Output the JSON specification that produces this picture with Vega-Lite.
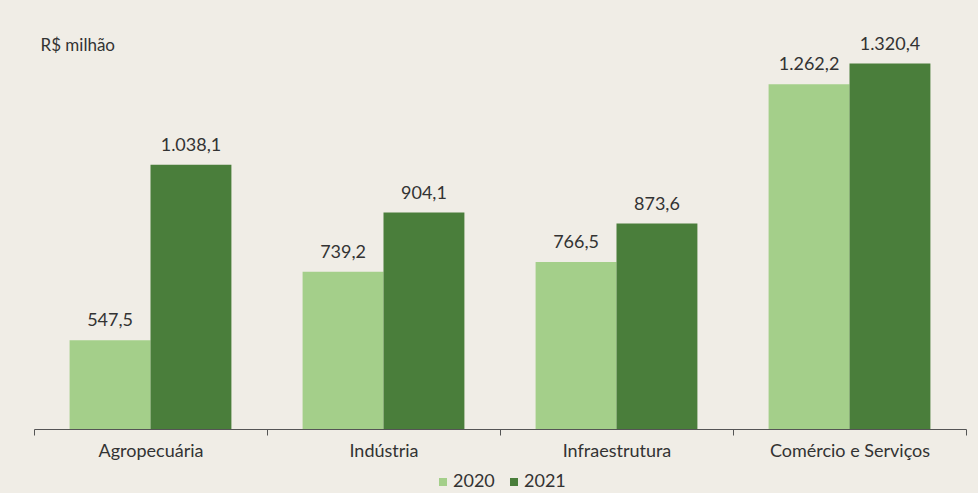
{
  "$schema": "https://vega.github.io/schema/vega-lite/v6.json",
  "autosize": {"type": "none"},
  "width": 932,
  "height": 394,
  "padding": {"left": 34, "top": 35, "right": 12, "bottom": 64},
  "background": "#f0ede6",
  "config": {
    "view": {"stroke": null},
    "font": "Lato",
    "locale": {"number": {"decimal": ",", "thousands": ".", "grouping": [3], "currency": ["R$", ""]}}
  },
  "data": {
    "values": [
      {"setor": "Agropecuária", "ano": "2020", "valor": 547.5},
      {"setor": "Agropecuária", "ano": "2021", "valor": 1038.1},
      {"setor": "Indústria", "ano": "2020", "valor": 739.2},
      {"setor": "Indústria", "ano": "2021", "valor": 904.1},
      {"setor": "Infraestrutura", "ano": "2020", "valor": 766.5},
      {"setor": "Infraestrutura", "ano": "2021", "valor": 873.6},
      {"setor": "Comércio e Serviços", "ano": "2020", "valor": 1262.2},
      {"setor": "Comércio e Serviços", "ano": "2021", "valor": 1320.4}
    ]
  },
  "encoding": {
    "x": {
      "field": "setor", "type": "nominal", "sort": null,
      "scale": {"paddingInner": 0, "paddingOuter": 0},
      "axis": {
        "title": null, "labelAngle": 0, "labelFont": "Lato", "labelFontSize": 18,
        "labelColor": "#333333", "labelPadding": 7, "tickBand": "extent",
        "tickSize": 6, "tickColor": "#555555", "domainColor": "#555555", "domainWidth": 1, "tickWidth": 1
      }
    },
    "xOffset": {"field": "ano", "type": "nominal", "scale": {"paddingInner": 0, "paddingOuter": 0.44}},
    "y": {
      "field": "valor", "type": "quantitative",
      "scale": {"domain": [300, 1400], "zero": false},
      "axis": {
        "title": "R$ milhão", "titleAngle": 0, "titleX": 6, "titleY": 10, "titleAlign": "left",
        "titleBaseline": "middle", "titleFont": "Lato", "titleFontSize": 17, "titleFontWeight": "normal",
        "titleColor": "#333333", "labels": false, "ticks": false, "domain": false, "grid": false
      }
    }
  },
  "layer": [
    {
      "mark": {"type": "bar", "clip": false},
      "encoding": {
        "y2": {"datum": 300},
        "color": {
          "field": "ano", "type": "nominal",
          "scale": {"domain": ["2020", "2021"], "range": ["#a4cf8a", "#4a7e3b"]},
          "legend": {
            "title": null, "orient": "none", "direction": "horizontal",
            "legendX": 400, "legendY": 438, "symbolType": "square", "symbolSize": 64,
            "labelFont": "Lato", "labelFontSize": 18, "labelColor": "#333333",
            "symbolStrokeWidth": 0, "columnPadding": 10, "labelOffset": 1
          }
        }
      }
    },
    {
      "mark": {"type": "text", "baseline": "bottom", "dy": -10, "fontSize": 18, "color": "#333333", "font": "Lato"},
      "encoding": {
        "text": {"field": "valor", "type": "quantitative", "format": ",.1f"}
      }
    }
  ]
}
